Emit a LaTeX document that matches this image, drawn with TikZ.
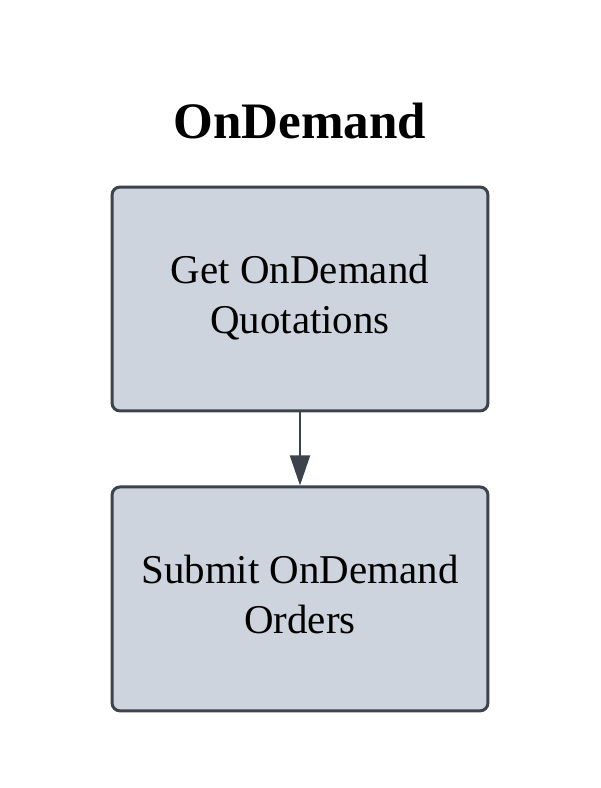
\documentclass[tikz,border=0pt]{standalone}
\usepackage{fontspec}
\setmainfont{Liberation Serif}
\usetikzlibrary{positioning,arrows.meta}
\definecolor{boxfill}{HTML}{CED4DD}
\definecolor{boxline}{HTML}{3D434C}
\tikzset{
  stepbox/.style={draw=boxline, fill=boxfill, line width=1.7pt, rounded corners=0.16cm,
    minimum width=7.52cm, minimum height=4.48cm, align=center, text depth=0.2cm,
    font=\fontsize{23.3}{28.45}\selectfont},
  flow/.style={draw=boxline, line width=1.1pt, -{Triangle[width=0.4cm,length=0.6cm]}}
}
\begin{document}
\begin{tikzpicture}[x=0.02cm, y=-0.02cm]
  \useasboundingbox (0,0) rectangle (600,788);
  \node[anchor=base, font=\fontsize{29.1}{34}\selectfont\bfseries] (title) at (300,138) {OnDemand};
  \node[stepbox] (quote) at (300,299) {Get OnDemand\\Quotations};
  \node[stepbox, below=1.46cm of quote] (orders) {Submit OnDemand\\Orders};
  \draw[flow] (quote) -- (orders);
\end{tikzpicture}
\end{document}
